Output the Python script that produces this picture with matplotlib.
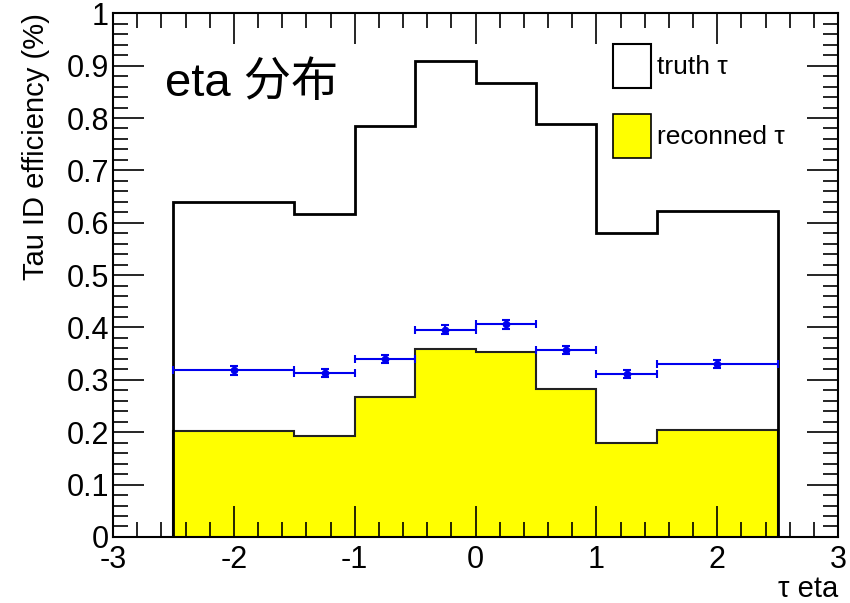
import numpy as np
import matplotlib
matplotlib.use('Agg')
from matplotlib import pyplot as plt
from matplotlib.patches import Patch
from matplotlib.ticker import MultipleLocator

plt.rcParams['font.family'] = ['Liberation Sans', 'Noto Sans CJK SC', 'DejaVu Sans']
plt.rcParams['axes.unicode_minus'] = False

# bin edges in tau eta
edges = [-2.5, -1.5, -1.0, -0.5, 0.0, 0.5, 1.0, 1.5, 2.5]
truth = [0.639, 0.616, 0.785, 0.908, 0.867, 0.788, 0.580, 0.622]
reco = [0.203, 0.192, 0.267, 0.359, 0.353, 0.282, 0.180, 0.205]
# efficiency points (blue)
eff = [0.318, 0.313, 0.340, 0.396, 0.406, 0.357, 0.311, 0.330]
eff_err = [0.008, 0.008, 0.008, 0.008, 0.008, 0.008, 0.008, 0.008]

yticks = [0, 0.1, 0.2, 0.3, 0.4, 0.5, 0.6, 0.7, 0.8, 0.9, 1]
ytick_labels = ['0', '0.1', '0.2', '0.3', '0.4', '0.5', '0.6', '0.7', '0.8', '0.9', '1']
xticks = [-3, -2, -1, 0, 1, 2, 3]

edges = np.array(edges)
centers = (edges[1:] + edges[:-1]) / 2
halfw = (edges[1:] - edges[:-1]) / 2

fig = plt.figure(figsize=(8.5, 6.03), dpi=100)
ax = fig.add_axes([0.133, 0.1095, 0.853, 0.8685])

ax.stairs(reco, edges, baseline=0, fill=True, facecolor='#ffff00', edgecolor='none')
ax.stairs(reco, edges, baseline=0, color='#222222', lw=1.5)
ax.stairs(truth, edges, baseline=0, color='black', lw=2)
ax.errorbar(centers, eff, xerr=halfw, yerr=eff_err, fmt='o', color='#0000ee',
            ms=4.5, lw=1.5, capsize=3, capthick=1.5)

ax.set_xlim(-3, 3)
ax.set_ylim(0, 1)
ax.set_xticks(xticks)
ax.set_yticks(yticks)
ax.set_yticklabels(ytick_labels)
ax.xaxis.set_minor_locator(MultipleLocator(0.2))
ax.yaxis.set_minor_locator(MultipleLocator(0.02))
ax.tick_params(which='both', direction='in', top=True, right=True, labelsize=22, width=1.2)
ax.tick_params(which='major', length=22)
ax.tick_params(which='minor', length=11)
ax.tick_params(axis='y', pad=3)
ax.tick_params(axis='x', pad=6)
for s in ax.spines.values():
    s.set_linewidth(1.5)

ax.set_xlabel('τ eta', fontsize=21, loc='right', labelpad=0)
ax.set_ylabel('Tau ID efficiency (%)', fontsize=21, loc='top', labelpad=12)

ax.text(-2.57, 0.865, 'eta 分布', fontsize=34, ha='left', va='center')

handles = [Patch(facecolor='white', edgecolor='black', lw=1.5),
           Patch(facecolor='#ffff00', edgecolor='black', lw=1.2)]
ax.legend(handles, ['truth τ', 'reconned τ'], loc='upper left',
          bbox_to_anchor=(0.690, 0.941), frameon=False, fontsize=19,
          borderpad=0, borderaxespad=0,
          handlelength=1.44, handleheight=2.16, labelspacing=1.0, handletextpad=0.22)

fig.savefig('out.png', dpi=100)
